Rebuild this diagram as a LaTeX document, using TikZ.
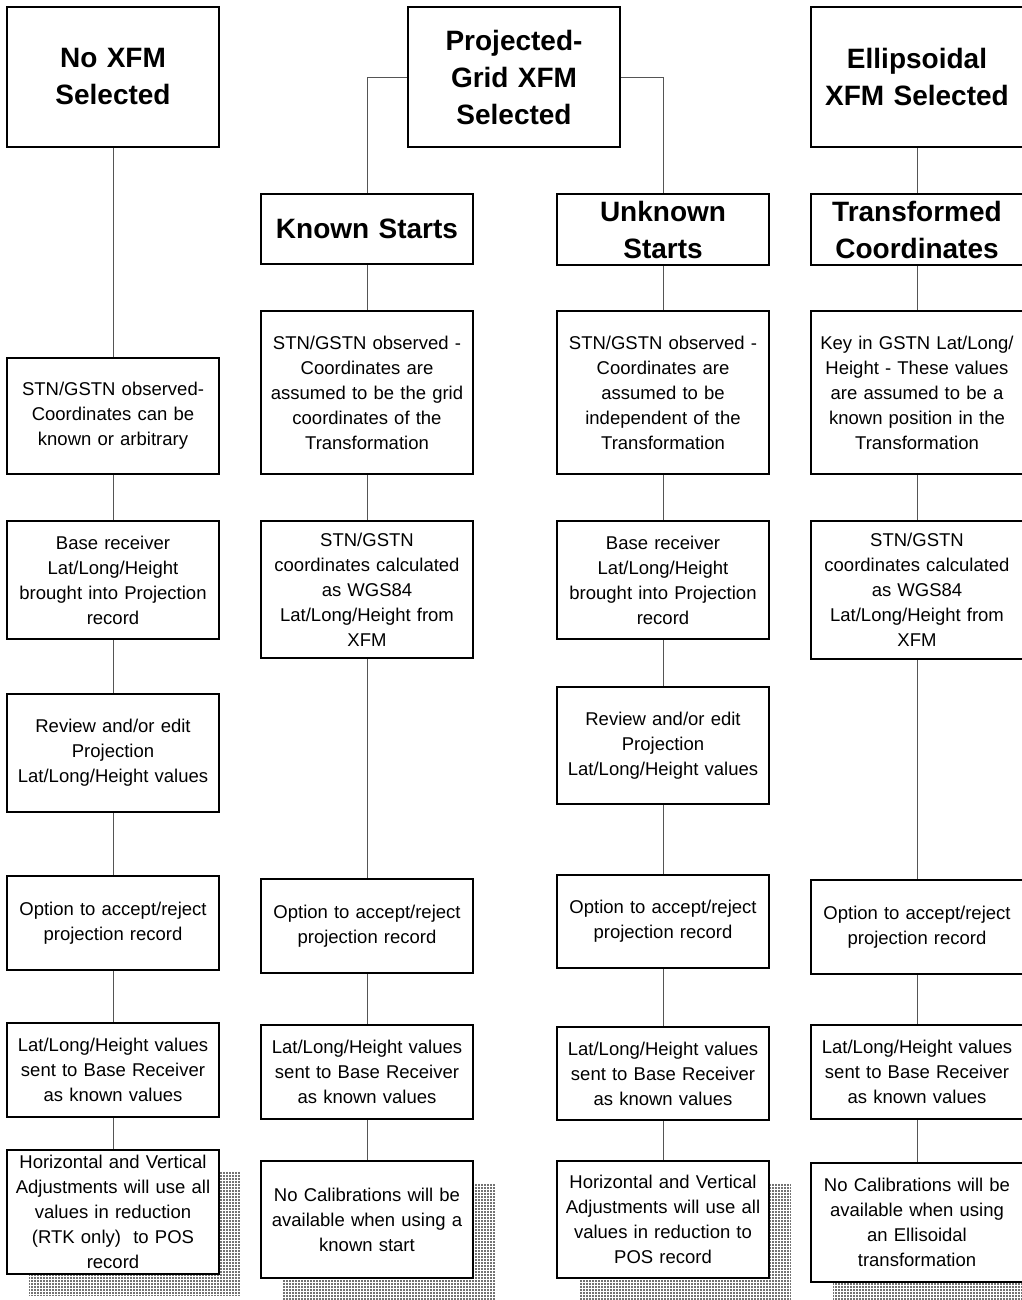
\documentclass[tikz,border=0pt]{standalone}
\usepackage{fontspec}
\setmainfont{Liberation Sans}
\usepackage{tikz}
\usetikzlibrary{positioning,backgrounds,patterns}
\definecolor{linkgray}{RGB}{85,85,85}

\begin{document}
\begin{tikzpicture}[
    x=1pt,y=1pt,
    node distance=47pt,
    box/.style={rectangle,draw,line width=1.3pt,outer sep=0pt,fill=white,text width=204pt,inner xsep=4pt,inner ysep=0pt,align=center,font=\fontsize{18.5pt}{25pt}\selectfont},
    head/.style={box,font=\bfseries\fontsize{28pt}{37pt}\selectfont},
    link/.style={draw=linkgray,line width=0.9pt},
    shadowbox/.style={fill=black!55,postaction={pattern=grid,pattern color=white}}
]
\useasboundingbox (0,0) rectangle (1021,-1300);

% top row
\node[head,minimum height=140pt] (none) at (113,-77) {No XFM\\Selected};
\node[head,minimum height=140pt] (proj) at (514,-77) {Projected-\\Grid XFM\\Selected};
\node[head,minimum height=140pt] (ellip) at (917,-77) {Ellipsoidal\\XFM Selected};

\node[head,minimum height=70pt] (known) at (367,-229) {Known Starts};
\node[head,minimum height=71pt] (unknown) at (663,-229.5) {Unknown\\Starts};
\node[head,minimum height=71pt] (trans) at (917,-229.5) {Transformed\\Coordinates};

% no XFM
\node[box,minimum height=116pt,below=211pt of none] (noobs) {STN/GSTN observed-\\Coordinates can be\\known or arbitrary};
\node[box,minimum height=118pt,below=of noobs] (nobase) {Base receiver\\Lat/Long/Height\\brought into Projection\\record};
\node[box,minimum height=118pt,below=55pt of nobase] (noreview) {Review and/or edit\\Projection\\Lat/Long/Height values};
\node[box,minimum height=94pt,below=64pt of noreview] (noopt) {Option to accept/reject\\projection record};
\node[box,minimum height=94pt,below=53pt of noopt] (nosend) {Lat/Long/Height values\\sent to Base Receiver\\as known values};
\node[box,minimum height=124pt,below=33pt of nosend] (noadj) {Horizontal and Vertical\\Adjustments will use all\\values in reduction\\(RTK only)\ \ to POS\\record};

% known starts
\node[box,minimum height=163pt,below=of known] (kobs) {STN/GSTN observed -\\Coordinates are\\assumed to be the grid\\coordinates of the\\Transformation};
\node[box,minimum height=137pt,below=of kobs] (kcalc) {STN/GSTN\\coordinates calculated\\as WGS84\\Lat/Long/Height from\\XFM};
\node[box,minimum height=94pt,below=221pt of kcalc] (kopt) {Option to accept/reject\\projection record};
\node[box,minimum height=94pt,below=52pt of kopt] (ksend) {Lat/Long/Height values\\sent to Base Receiver\\as known values};
\node[box,minimum height=117pt,below=42pt of ksend] (kcal) {No Calibrations will be\\available when using a\\known start};

% unknown starts
\node[box,minimum height=163pt,below=46pt of unknown] (uobs) {STN/GSTN observed -\\Coordinates are\\assumed to be\\independent of the\\Transformation};
\node[box,minimum height=118pt,below=of uobs] (ubase) {Base receiver\\Lat/Long/Height\\brought into Projection\\record};
\node[box,minimum height=117pt,below=48pt of ubase] (ureview) {Review and/or edit\\Projection\\Lat/Long/Height values};
\node[box,minimum height=93pt,below=71pt of ureview] (uopt) {Option to accept/reject\\projection record};
\node[box,minimum height=93pt,below=59pt of uopt] (usend) {Lat/Long/Height values\\sent to Base Receiver\\as known values};
\node[box,minimum height=117pt,below=41pt of usend] (uadj) {Horizontal and Vertical\\Adjustments will use all\\values in reduction to\\POS record};

% ellipsoidal
\node[box,minimum height=163pt,below=46pt of trans] (ekey) {Key in GSTN Lat/Long/\\Height - These values\\are assumed to be a\\known position in the\\Transformation};
\node[box,minimum height=138pt,below=of ekey] (ecalc) {STN/GSTN\\coordinates calculated\\as WGS84\\Lat/Long/Height from\\XFM};
\node[box,minimum height=94pt,below=221pt of ecalc] (eopt) {Option to accept/reject\\projection record};
\node[box,minimum height=94pt,below=51pt of eopt] (esend) {Lat/Long/Height values\\sent to Base Receiver\\as known values};
\node[box,minimum height=119pt,below=44pt of esend] (ecal) {No Calibrations will be\\available when using\\an Ellisoidal\\transformation};

% shadows
\begin{scope}[on background layer]
\fill[shadowbox] ([shift={(22pt,-22pt)}]noadj.south west) rectangle ([shift={(22pt,-22pt)}]noadj.north east);
\fill[shadowbox] ([shift={(22pt,-22pt)}]kcal.south west) rectangle ([shift={(22pt,-22pt)}]kcal.north east);
\fill[shadowbox] ([shift={(22pt,-22pt)}]uadj.south west) rectangle ([shift={(22pt,-22pt)}]uadj.north east);
\fill[shadowbox] ([shift={(22pt,-22pt)}]ecal.south west) rectangle ([shift={(22pt,-22pt)}]ecal.north east);

\draw[link] (none) -- (noobs);
\draw[link] (noobs) -- (nobase);
\draw[link] (nobase) -- (noreview);
\draw[link] (noreview) -- (noopt);
\draw[link] (noopt) -- (nosend);
\draw[link] (nosend) -- (noadj);

\draw[link] (proj.west) -| (known);
\draw[link] (known) -- (kobs);
\draw[link] (kobs) -- (kcalc);
\draw[link] (kcalc) -- (kopt);
\draw[link] (kopt) -- (ksend);
\draw[link] (ksend) -- (kcal);

\draw[link] (proj.east) -| (unknown);
\draw[link] (unknown) -- (uobs);
\draw[link] (uobs) -- (ubase);
\draw[link] (ubase) -- (ureview);
\draw[link] (ureview) -- (uopt);
\draw[link] (uopt) -- (usend);
\draw[link] (usend) -- (uadj);

\draw[link] (ellip) -- (trans);
\draw[link] (trans) -- (ekey);
\draw[link] (ekey) -- (ecalc);
\draw[link] (ecalc) -- (eopt);
\draw[link] (eopt) -- (esend);
\draw[link] (esend) -- (ecal);
\end{scope}
\end{tikzpicture}
\end{document}
